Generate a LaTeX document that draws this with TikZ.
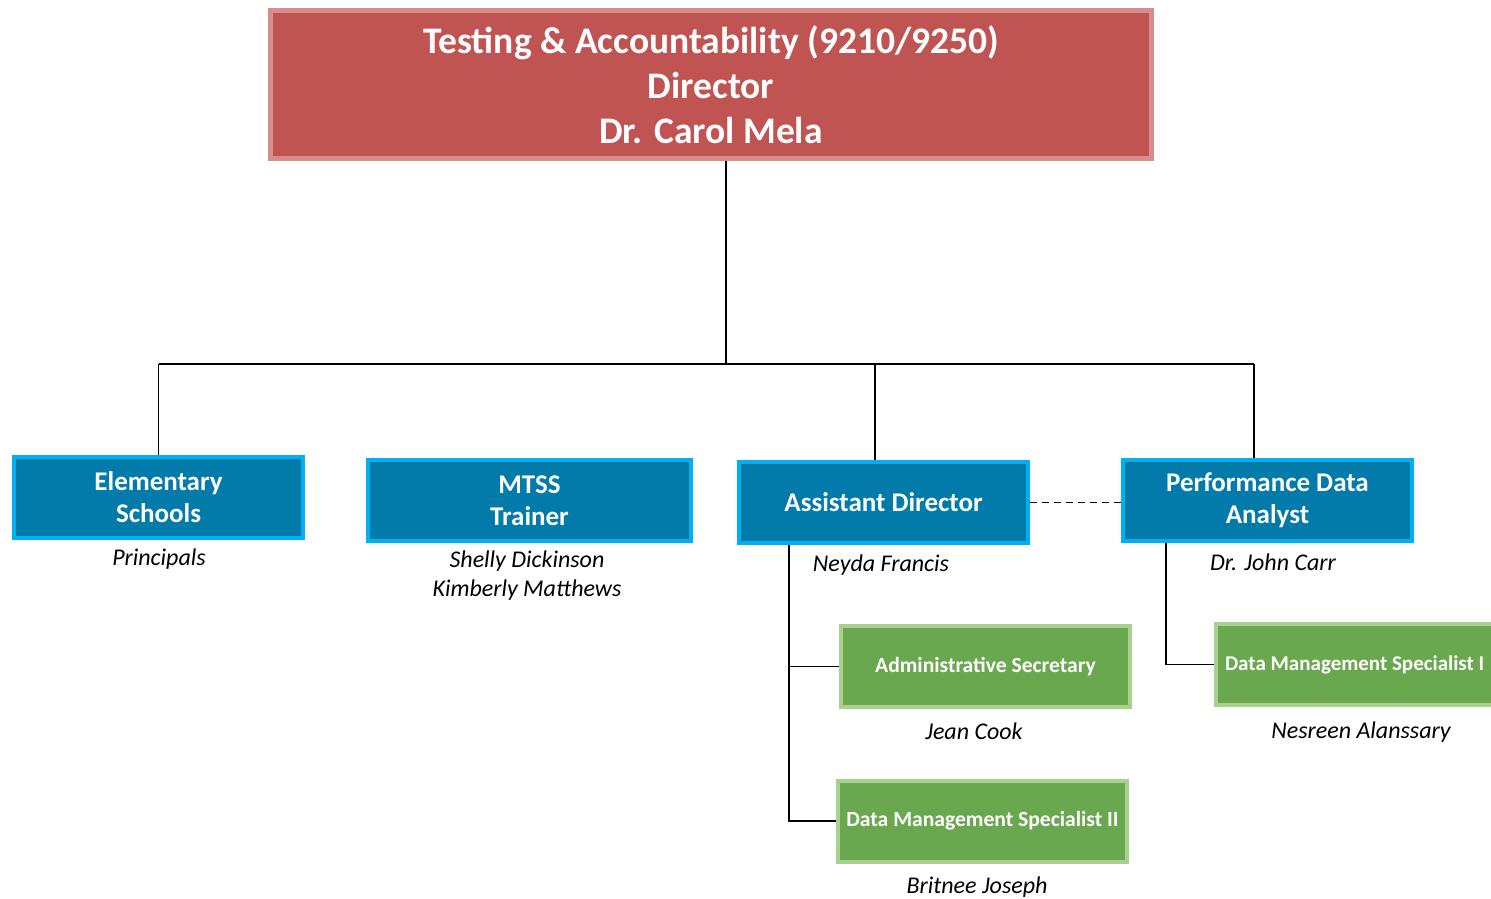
\documentclass[tikz,border=0pt]{standalone}
\usepackage{fontspec}
\setmainfont{Carlito}
\definecolor{titlefill}{RGB}{192,84,82}
\definecolor{titleborder}{RGB}{217,140,140}
\definecolor{bluefill}{RGB}{2,122,170}
\definecolor{blueborder}{RGB}{0,176,240}
\definecolor{greenfill}{RGB}{106,168,79}
\definecolor{greenborder}{RGB}{169,209,142}
\begin{document}
\begin{tikzpicture}[x=1pt,y=-1pt,
  redbox/.style={draw=titleborder, fill=titlefill, line width=5pt, text=white,
    font=\bfseries\fontsize{37.5}{45}\selectfont, align=center, inner sep=0pt,
    minimum width=881pt, minimum height=148pt},
  bluebox/.style={draw=blueborder, fill=bluefill, line width=4pt, text=white,
    font=\bfseries\fontsize{27}{32}\selectfont, align=center, inner sep=0pt,
    minimum width=289pt, minimum height=81pt},
  greenbox/.style={draw=greenborder, fill=greenfill, line width=4pt, text=white,
    font=\bfseries\fontsize{21.6}{25}\selectfont, align=center, inner sep=0pt,
    minimum width=289pt, minimum height=81pt},
  who/.style={font=\itshape\fontsize{24}{29}\selectfont, align=center, inner sep=0pt},
  conn/.style={draw=black, line width=1.8pt}]
\useasboundingbox (0,0) rectangle (1491,898);
\clip (0,0) rectangle (1491,898);
\fill[white] (0,0) rectangle (1491,898);

% boxes
\node[redbox] (title) at (711,84.5) {Testing \& Accountability (9210/9250)\\Director\\Dr. Carol Mela};
\node[bluebox] (elem) at (158.5,497.5) {Elementary\\Schools};
\node[bluebox, minimum width=323pt] (mtss) at (529.5,500.5) {MTSS\\Trainer};
\node[bluebox] (ad) at (883.5,502.5) {Assistant Director};
\node[bluebox] (pda) at (1267.5,500) {Performance Data\\Analyst};
\node[greenbox] (admin) at (985.5,666.5) {Administrative Secretary};
\node[greenbox] (dms2) at (982.5,821) {Data Management Specialist II};
\node[greenbox, font=\bfseries\fontsize{21}{25}\selectfont, text width=271pt, align=flush left] (dms1) at (1360.5,664.5) {Data Management Specialist I};

% names
\node[who] (nelem) at (159,559) {Principals};
\node[who] (nmtss) at (527,576) {Shelly Dickinson\\Kimberly Matthews};
\node[who] (nad) at (881,565) {Neyda Francis};
\node[who] (npda) at (1273,562) {Dr. John Carr};
\node[who] (nadmin) at (974,731) {Jean Cook};
\node[who] (ndms1) at (1361,732) {Nesreen Alanssary};
\node[who] (ndms2) at (977,887) {Britnee Joseph};

% connectors
\coordinate (hub) at (726,364);
\coordinate (left) at (158.5,364);
\coordinate (right) at (1254,364);
\coordinate (admid) at (875,364);
\coordinate (adleg) at (789,0);
\coordinate (pdaleg) at (1166,0);
\draw[conn] (title.south -| hub) -- (hub);
\draw[conn] (left) -- (right);
\draw[conn] (left) -- (elem.north);
\draw[conn] (admid) -- (admid |- ad.north);
\draw[conn] (right) -- (right |- pda.north);
\draw[conn, dashed, dash pattern=on 7pt off 5pt] (ad.east) -- (ad.east -| pda.west);
\draw[conn] (adleg |- ad.south) -- (adleg |- dms2.west) -- (dms2.west);
\draw[conn] (adleg |- admin.west) -- (admin.west);
\draw[conn] (pdaleg |- pda.south) -- (pdaleg |- dms1.west) -- (dms1.west);
\end{tikzpicture}
\end{document}
